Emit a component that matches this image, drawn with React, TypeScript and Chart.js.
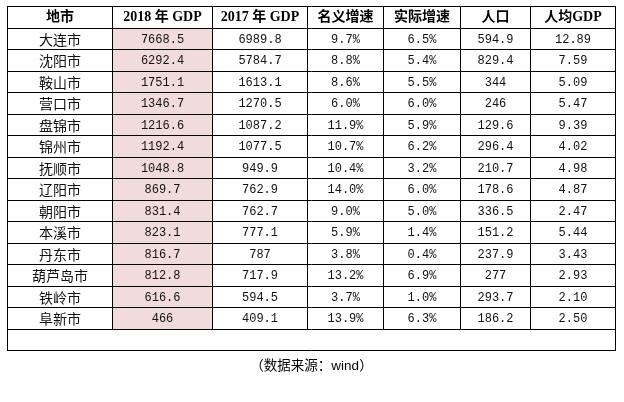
import React, { useEffect, useRef } from 'react';
import { Chart, registerables } from 'chart.js';

Chart.register(...registerables);

// ---- data ----
const headers = ['地市', '2018 年 GDP', '2017 年 GDP', '名义增速', '实际增速', '人口', '人均GDP'];
const cities = ['大连市', '沈阳市', '鞍山市', '营口市', '盘锦市', '锦州市', '抚顺市', '辽阳市', '朝阳市', '本溪市', '丹东市', '葫芦岛市', '铁岭市', '阜新市'];
const gdp2018 = [7668.5, 6292.4, 1751.1, 1346.7, 1216.6, 1192.4, 1048.8, 869.7, 831.4, 823.1, 816.7, 812.8, 616.6, 466];
const gdp2017 = [6989.8, 5784.7, 1613.1, 1270.5, 1087.2, 1077.5, 949.9, 762.9, 762.7, 777.1, 787, 717.9, 594.5, 409.1];
const nominalGrowth = [9.7, 8.8, 8.6, 6.0, 11.9, 10.7, 10.4, 14.0, 9.0, 5.9, 3.8, 13.2, 3.7, 13.9];
const realGrowth = [6.5, 5.4, 5.5, 6.0, 5.9, 6.2, 3.2, 6.0, 5.0, 1.4, 0.4, 6.9, 1.0, 6.3];
const population = [594.9, 829.4, 344, 246, 129.6, 296.4, 210.7, 178.6, 336.5, 151.2, 237.9, 277, 293.7, 186.2];
const perCapitaGdp = [12.89, 7.59, 5.09, 5.47, 9.39, 4.02, 4.98, 4.87, 2.47, 5.44, 3.43, 2.93, 2.10, 2.50];
const highlightColumn = 1; // "2018 年 GDP"
const sourceNote = '（数据来源：wind）';

// ---- layout (not data) ----
const COL_WIDTHS = [105, 100, 95, 76, 77, 70, 85];

export default function App() {
  const ref = useRef<HTMLCanvasElement>(null);

  useEffect(() => {
    document.body.style.margin = '0';
    const canvas = ref.current;
    if (!canvas) return;

    const colEdges: number[] = [0];
    COL_WIDTHS.forEach((w) => colEdges.push(colEdges[colEdges.length - 1] + w));
    const rowLabels = ['header', ...cities, 'blank'];

    const highlight = rowLabels.map((_, i) =>
      i >= 1 && i <= cities.length ? [colEdges[highlightColumn], colEdges[highlightColumn + 1]] : null
    );

    const cellText = (r: number, c: number): string => {
      switch (c) {
        case 0: return cities[r];
        case 1: return String(gdp2018[r]);
        case 2: return String(gdp2017[r]);
        case 3: return nominalGrowth[r].toFixed(1) + '%';
        case 4: return realGrowth[r].toFixed(1) + '%';
        case 5: return String(population[r]);
        case 6: return perCapitaGdp[r].toFixed(2);
      }
      return '';
    };

    const tablePlugin = {
      id: 'tablePlugin',
      beforeDraw(chart: any) {
        const c = chart.ctx;
        c.save();
        c.fillStyle = '#ffffff';
        c.fillRect(0, 0, chart.width, chart.height);
        c.restore();
      },
      afterDatasetsDraw(chart: any) {
        const c = chart.ctx as CanvasRenderingContext2D;
        const x = chart.scales.x;
        const y = chart.scales.y;
        const n = rowLabels.length;
        const band = y.getPixelForValue(1) - y.getPixelForValue(0);
        const rowEdge = (i: number) => y.getPixelForValue(i) - band / 2;
        const colPx = colEdges.map((v) => x.getPixelForValue(v));
        const crisp = (v: number) => Math.round(v - 0.5) + 0.5;

        c.save();
        c.strokeStyle = '#000000';
        c.lineWidth = 1;
        // horizontal lines
        for (let i = 0; i <= n; i++) {
          const yy = crisp(rowEdge(i));
          c.beginPath();
          c.moveTo(colPx[0] - 0.5, yy);
          c.lineTo(colPx[colPx.length - 1] + 0.5, yy);
          c.stroke();
        }
        // vertical lines
        const dataBottom = crisp(rowEdge(n - 1));
        const fullBottom = crisp(rowEdge(n));
        const top = crisp(rowEdge(0));
        colPx.forEach((px, k) => {
          const outer = k === 0 || k === colPx.length - 1;
          const xx = crisp(px);
          c.beginPath();
          c.moveTo(xx, top);
          c.lineTo(xx, outer ? fullBottom : dataBottom);
          c.stroke();
        });

        // header text
        c.textAlign = 'center';
        c.textBaseline = 'middle';
        c.fillStyle = '#000000';
        c.font = "bold 14px 'Liberation Serif', 'Noto Sans CJK SC'";
        headers.forEach((h, k) => {
          const cx = (colPx[k] + colPx[k + 1]) / 2;
          c.fillText(h, cx, y.getPixelForValue(0) + 0.5);
        });

        // body text
        c.fillStyle = '#111111';
        for (let r = 0; r < cities.length; r++) {
          const cy = y.getPixelForValue(r + 1);
          for (let k = 0; k < headers.length; k++) {
            const cx = (colPx[k] + colPx[k + 1]) / 2;
            if (k === 0) {
              c.font = "14px 'Noto Sans CJK SC'";
              c.fillText(cellText(r, k), cx, cy + 0.5);
            } else {
              c.font = "12px 'Liberation Mono', 'Noto Sans CJK SC'";
              c.fillText(cellText(r, k), cx, cy + 1);
            }
          }
        }

        // source note
        c.font = "13.5px 'Liberation Sans', 'Noto Sans CJK SC'";
        c.fillStyle = '#000000';
        c.fillText(sourceNote, (colPx[0] + colPx[colPx.length - 1]) / 2, fullBottom + 16);
        c.restore();
      },
    };

    const chart = new Chart(canvas, {
      type: 'bar',
      data: {
        labels: rowLabels,
        datasets: [
          {
            data: highlight as any,
            backgroundColor: '#F2DCDB',
            borderWidth: 0,
            barPercentage: 1,
            categoryPercentage: 1,
          },
        ],
      },
      options: {
        indexAxis: 'y',
        responsive: false,
        animation: false,
        events: [],
        layout: { padding: { left: 7.5, right: 8.5, top: 6.5, bottom: 51.5 } },
        scales: {
          x: { type: 'linear', min: 0, max: colEdges[colEdges.length - 1], display: false },
          y: { type: 'category', display: false, offset: true },
        },
        plugins: {
          legend: { display: false },
          tooltip: { enabled: false },
          title: { display: false },
        },
      },
      plugins: [tablePlugin],
    });

    return () => chart.destroy();
  }, []);

  return <canvas ref={ref} width={624} height={402} style={{ display: 'block' }} />;
}
